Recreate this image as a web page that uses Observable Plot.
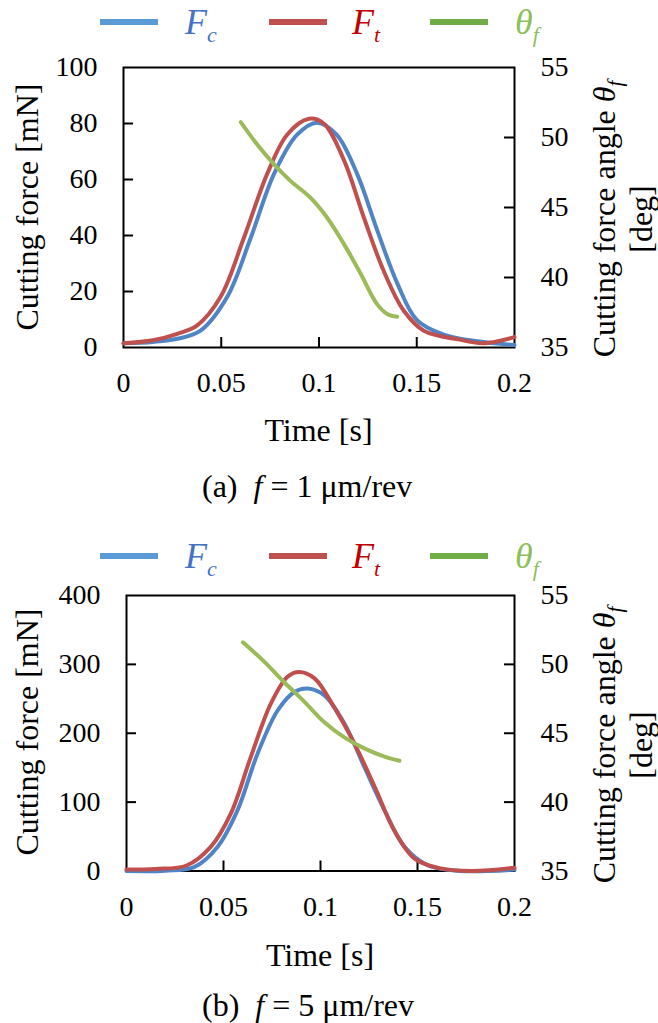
<!DOCTYPE html>
<html><head><meta charset="utf-8">
<script src="https://cdn.jsdelivr.net/npm/d3@7"></script>
<script src="https://cdn.jsdelivr.net/npm/@observablehq/plot@0.6"></script>
<style>
body{margin:0;background:#fff;}
#root{position:relative;width:658px;height:1023px;font-family:"Liberation Serif","Times New Roman",serif;color:#000;overflow:hidden;background:#fff}
.abs{position:absolute;white-space:nowrap}
.t32{font-size:32px;line-height:33px}
.rot{transform:translate(-50%,-50%) rotate(-90deg);text-align:center;font-size:32px;line-height:33px}
.leg{font-size:36px;line-height:36px;font-style:italic}
.leg .sb{font-size:22px;position:relative;top:8px}
.ln{position:absolute;height:6px}
svg{position:absolute;left:0}
</style></head><body><div id="root"></div>
<script>
// ---------- data ----------
// time ticks and axis ticks
const xTicks = [0, 0.05, 0.1, 0.15, 0.2];
const yTicksA = [0, 20, 40, 60, 80, 100];
const yTicksB = [0, 100, 200, 300, 400];
const thetaTicks = [35, 40, 45, 50, 55];

// panel (a) f = 1 um/rev
const tFcA = [0, 0.015, 0.0275, 0.0394, 0.053, 0.065, 0.077, 0.0888, 0.099, 0.109, 0.1195, 0.1297, 0.14, 0.150, 0.1638, 0.181, 0.2];
const FcA  = [1.5, 2.0, 3.1, 6, 18, 39, 62, 76, 80.3, 76, 62, 42, 23, 9.9, 4.6, 2.2, 0.9];
const tFtA = [0, 0.015, 0.0275, 0.0377, 0.0496, 0.0615, 0.0735, 0.0837, 0.0948, 0.1024, 0.1127, 0.1229, 0.133, 0.1433, 0.1536, 0.172, 0.184, 0.2];
const FtA  = [1.5, 2.6, 4.9, 7.9, 18, 39, 62, 76, 81.7, 80, 67, 46.5, 27.5, 13.2, 6, 2.8, 1.5, 3.7];
const tThA = [0.060, 0.0684, 0.0769, 0.0854, 0.0956, 0.104, 0.1127, 0.1212, 0.1297, 0.1349, 0.14];
const ThA  = [51.1, 49.5, 48.1, 46.9, 45.7, 44.3, 42.4, 40.3, 38.1, 37.4, 37.2];

// panel (b) f = 5 um/rev
const tFcB = [0, 0.02, 0.0348, 0.0469, 0.0572, 0.0675, 0.0779, 0.0865, 0.0934, 0.102, 0.1123, 0.1226, 0.133, 0.1433, 0.1554, 0.172, 0.2];
const FcB  = [0, 0.5, 5.6, 35, 88, 170, 233, 260, 265, 255, 214, 151, 88, 35, 8, 0, 2];
const tFtB = [0, 0.015, 0.031, 0.0434, 0.0537, 0.064, 0.0744, 0.083, 0.089, 0.0968, 0.107, 0.1175, 0.128, 0.138, 0.1485, 0.1606, 0.178, 0.2];
const FtB  = [2, 3, 8, 35, 83, 165, 243, 282, 289, 280, 238, 185, 122, 59, 18, 4.6, 0, 4.6];
const tThB = [0.060, 0.071, 0.0813, 0.0916, 0.102, 0.1123, 0.1226, 0.133, 0.1407];
const ThB  = [51.6, 50.2, 48.7, 47.3, 45.8, 44.7, 43.9, 43.3, 43.0];

const captions = ["(a)", "(b)"];
const feeds = [1, 5];

// ---------- styles ----------
const C_FC = "#4F85C6", C_FT = "#C0504D", C_TH = "#9BBB59";
const L_FC = "#5B9BD5", L_FT = "#C0504D", L_TH = "#70AD47";
const T_FC = "#4472C4", T_FT = "#C00000", T_TH = "#8DC05A";

const root = document.getElementById("root");
const zip = (t, v) => t.map((d, i) => ({t: d, v: v[i]}));

function panel(cfg) {
  const W = 658, H = 460;
  const frameW = W - cfg.ml - cfg.mr, frameH = H - cfg.mt - cfg.mb;
  const toY = th => (th - 35) * cfg.k;
  const inner = a => a.slice(1, -1);
  const svg = Plot.plot({
    width: W, height: H,
    marginTop: cfg.mt, marginBottom: cfg.mb, marginLeft: cfg.ml, marginRight: cfg.mr,
    x: {domain: [0, 0.2]},
    y: {domain: [0, cfg.ymax]},
    style: {fontFamily: "'Liberation Serif', 'Times New Roman', serif", fontSize: "28px", background: "transparent", overflow: "visible", color: "#000"},
    marks: [
      Plot.frame({stroke: "#000", strokeWidth: 2}),
      Plot.ruleX(inner(xTicks), {x: d => d, insetTop: frameH - 10, stroke: "#000", strokeWidth: 2}),
      Plot.ruleY(inner(cfg.yTicks), {y: d => d, insetRight: frameW - 10, stroke: "#000", strokeWidth: 2}),
      Plot.ruleY(inner(thetaTicks), {y: d => toY(d), insetLeft: frameW - 10, stroke: "#000", strokeWidth: 2}),
      Plot.axisX({ticks: xTicks, tickSize: 0, tickPadding: 25, label: null, tickFormat: d => String(d), fontSize: 28}),
      Plot.axisY({anchor: "left", ticks: cfg.yTicks, tickSize: 0, tickPadding: 26, label: null, tickFormat: d => String(d), fontSize: 28}),
      Plot.axisY({anchor: "right", ticks: thetaTicks.map(toY), tickSize: 0, tickPadding: 26, label: null,
                  tickFormat: v => String(Math.round(v / cfg.k + 35)), fontSize: 28}),
      Plot.line(zip(cfg.tFc, cfg.Fc), {x: "t", y: "v", stroke: C_FC, strokeWidth: 4, curve: "catmull-rom"}),
      Plot.line(zip(cfg.tFt, cfg.Ft), {x: "t", y: "v", stroke: C_FT, strokeWidth: 4, curve: "catmull-rom"}),
      Plot.line(zip(cfg.tTh, cfg.Th), {x: "t", y: d => toY(d.v), stroke: C_TH, strokeWidth: 4, strokeLinecap: "round", curve: "catmull-rom"})
    ]
  });
  svg.style.top = cfg.top + "px";
  root.appendChild(svg);

  const add = (cls, html, css) => {
    const d = document.createElement("div");
    d.className = "abs " + cls;
    d.innerHTML = html;
    Object.assign(d.style, css);
    root.appendChild(d);
    return d;
  };
  // legend
  const ly = cfg.legY;
  [[100, L_FC], [269, L_FT], [430, L_TH]].forEach(([x, c]) => {
    const d = document.createElement("div");
    d.className = "ln";
    Object.assign(d.style, {left: x + "px", width: "58px", top: (ly - 3) + "px", background: c});
    root.appendChild(d);
  });
  const lt = (ly + 12 - 30.2) + "px";
  add("leg", 'F<span class="sb">c</span>', {left: "185px", top: lt, color: T_FC});
  add("leg", 'F<span class="sb">t</span>', {left: "352px", top: lt, color: T_FT});
  add("leg", 'θ<span class="sb">f</span>', {left: "515px", top: lt, color: T_TH});

  // axis titles
  add("rot", "Cutting force [mN]", {left: "26.7px", top: cfg.leftCy + "px"});
  add("rot", 'Cutting force angle <i>θ</i><i style="font-size:21px;position:relative;top:7px">f</i><br>[deg]',
      {left: "622.7px", top: cfg.rightCy + "px"});
  add("t32", "Time [s]", {left: "0px", width: (cfg.ml + frameW / 2) * 2 + "px", textAlign: "center", top: cfg.timeTop + "px"});
  add("t32", cfg.cap + '&nbsp;&nbsp;<i>f</i>&nbsp;= ' + cfg.feed + ' μm/rev', {left: "202px", top: cfg.capTop + "px"});
}

panel({top: 0, mt: 67, mb: 113, ml: 123, mr: 144, k: 5, ymax: 100, yTicks: yTicksA,
  tFc: tFcA, Fc: FcA, tFt: tFtA, Ft: FtA, tTh: tThA, Th: ThA,
  legY: 22, leftCy: 207, rightCy: 219, timeTop: 414.4, capTop: 470, cap: captions[0], feed: feeds[0]});
panel({top: 528, mt: 67, mb: 117.5, ml: 126, mr: 144, k: 20, ymax: 400, yTicks: yTicksB,
  tFc: tFcB, Fc: FcB, tFt: tFtB, Ft: FtB, tTh: tThB, Th: ThB,
  legY: 556, leftCy: 732, rightCy: 745, timeTop: 938.7, capTop: 989, cap: captions[1], feed: feeds[1]});
</script>
</body></html>
